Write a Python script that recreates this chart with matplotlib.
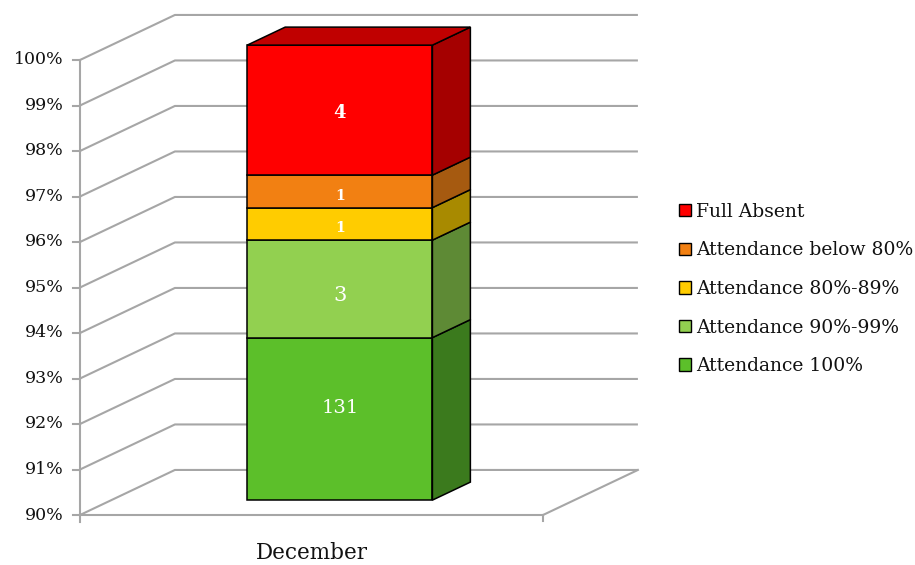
import matplotlib.pyplot as plt
from matplotlib.patches import Polygon, Patch

# Data
category = 'December'
series = ['Attendance 100%', 'Attendance 90%-99%', 'Attendance 80%-89%',
          'Attendance below 80%', 'Full Absent']
counts = [131, 3, 1, 1, 4]
front_colors = ['#5CBF2A', '#92D050', '#FFCC00', '#F28012', '#FF0000']
side_colors = ['#3B7A1D', '#5E8A35', '#A88A00', '#A65A10', '#A50000']
top_color = '#C00000'
label_sizes = [14, 15, 10, 10, 13]
label_weights = ['normal', 'normal', 'bold', 'bold', 'bold']
label_offsets = [11, -7, -4, -5, -3]   # pixels, fine placement of labels
y_ticks = list(range(90, 101))
y_min, y_max = 90, 100

# 3D oblique depth (full depth of the box)
DX, DY = 0.205, 0.99
bar_c, bar_w = 0.4935, 0.40
d0, d1 = 0.33, 0.73

plt.rcParams['font.family'] = ['DejaVu Serif']
text_col = '#111111'

fig = plt.figure(figsize=(9.15, 5.65), dpi=100)
ax = fig.add_axes([0, 0, 1, 1])
ax.set_xlim(-80 / 463, 835 / 463)
ax.set_ylim(90 - 50 / 45.5, 100 + 60 / 45.5)
ax.axis('off')

grid_col = '#A6A6A6'
# gridlines: left wall diagonal + back wall
for t in y_ticks:
    ax.plot([0, DX, 1 + DX], [t, t + DY, t + DY], color=grid_col, lw=1.5,
            zorder=1, solid_capstyle='butt')
# floor front edge and right edge
ax.plot([0, 1], [y_min, y_min], color=grid_col, lw=1.5, zorder=1)
ax.plot([1, 1 + DX], [y_min, y_min + DY], color=grid_col, lw=1.5, zorder=1)
ax.plot([1, 1], [y_min, y_min - 0.13], color=grid_col, lw=1.5, zorder=1)
# y axis
ax.plot([0, 0], [y_min - 0.15, y_max], color=grid_col, lw=1.5, zorder=1)
for t in y_ticks:
    ax.plot([-0.015, 0], [t, t], color=grid_col, lw=1.5, zorder=1)
    ax.text(-0.036, t, f'{t}%', ha='right', va='center', fontsize=12.5,
            color=text_col)

# stacked 3D bar
total = sum(counts)
x0, x1 = bar_c - bar_w / 2, bar_c + bar_w / 2
sx0, sy0 = d0 * DX, d0 * DY
sx1, sy1 = d1 * DX, d1 * DY
for i, (c, fc, sc) in enumerate(zip(counts, front_colors, side_colors)):
    lo = max(100 * sum(counts[:i]) / total, y_min)
    hi = 100 * sum(counts[:i + 1]) / total
    front = [(x0 + sx0, lo + sy0), (x1 + sx0, lo + sy0),
             (x1 + sx0, hi + sy0), (x0 + sx0, hi + sy0)]
    side = [(x1 + sx0, lo + sy0), (x1 + sx1, lo + sy1),
            (x1 + sx1, hi + sy1), (x1 + sx0, hi + sy0)]
    ax.add_patch(Polygon(front, closed=True, facecolor=fc, edgecolor='black',
                         lw=1.1, zorder=3))
    ax.add_patch(Polygon(side, closed=True, facecolor=sc, edgecolor='black',
                         lw=1.1, zorder=3))
    ax.annotate(str(c), (bar_c + sx0, (lo + hi) / 2 + sy0),
                xytext=(0, label_offsets[i]), textcoords='offset pixels',
                ha='center', va='center', color='white',
                fontsize=label_sizes[i], fontweight=label_weights[i], zorder=4)
top = [(x0 + sx0, y_max + sy0), (x1 + sx0, y_max + sy0),
       (x1 + sx1, y_max + sy1), (x0 + sx1, y_max + sy1)]
ax.add_patch(Polygon(top, closed=True, facecolor=top_color, edgecolor='black',
                     lw=1.1, zorder=3))

# category label
ax.text(0.5, y_min - 0.83, category, ha='center', va='center', fontsize=15.5,
        color=text_col)

# legend
handles = [Patch(facecolor=fc, edgecolor='black', label=s)
           for s, fc in zip(series, front_colors)][::-1]
fig.legend(handles=handles, loc='center left',
           bbox_to_anchor=(671 / 915, 1 - 289 / 565),
           frameon=False, fontsize=13.5, handlelength=0.65, handleheight=0.65,
           handletextpad=0.3, labelspacing=1.1, borderaxespad=0,
           labelcolor=text_col)

fig.savefig('out.png', dpi=100)
